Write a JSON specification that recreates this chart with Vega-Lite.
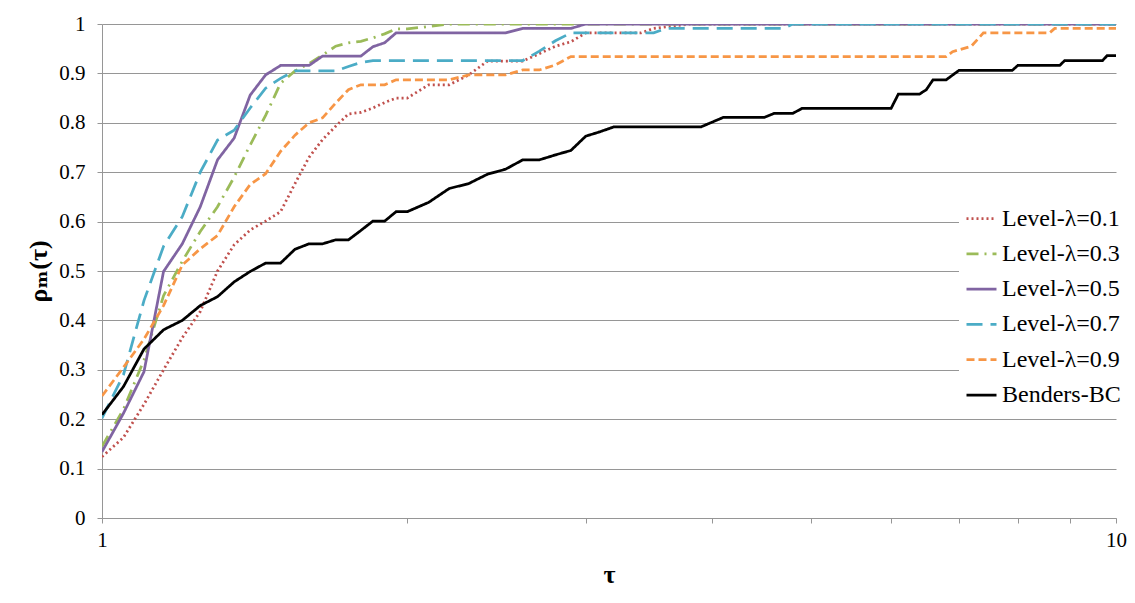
{
  "$schema": "https://vega.github.io/schema/vega-lite/v6.json",
  "width": 1014,
  "height": 494,
  "autosize": {"type": "none"},
  "padding": {"left": 102, "top": 24, "right": 19, "bottom": 85},
  "background": "white",
  "config": {"view": {"stroke": null}, "font": "Times New Roman, Liberation Serif, DejaVu Serif, serif"},
  "datasets": {
    "raw": [
      {"s": "Level-λ=0.1", "t": 1, "v": 0.124}, {"s": "Level-λ=0.1", "t": 1.05, "v": 0.163}, {"s": "Level-λ=0.1", "t": 1.1, "v": 0.23}, {"s": "Level-λ=0.1", "t": 1.15, "v": 0.3}, {"s": "Level-λ=0.1", "t": 1.2, "v": 0.365}, {"s": "Level-λ=0.1", "t": 1.25, "v": 0.418}, {"s": "Level-λ=0.1", "t": 1.3, "v": 0.5}, {"s": "Level-λ=0.1", "t": 1.35, "v": 0.553}, {"s": "Level-λ=0.1", "t": 1.4, "v": 0.583}, {"s": "Level-λ=0.1", "t": 1.45, "v": 0.601}, {"s": "Level-λ=0.1", "t": 1.5, "v": 0.62}, {"s": "Level-λ=0.1", "t": 1.55, "v": 0.677}, {"s": "Level-λ=0.1", "t": 1.6, "v": 0.73}, {"s": "Level-λ=0.1", "t": 1.65, "v": 0.766}, {"s": "Level-λ=0.1", "t": 1.7, "v": 0.793}, {"s": "Level-λ=0.1", "t": 1.75, "v": 0.818}, {"s": "Level-λ=0.1", "t": 1.8, "v": 0.821}, {"s": "Level-λ=0.1", "t": 1.85, "v": 0.83}, {"s": "Level-λ=0.1", "t": 1.9, "v": 0.841}, {"s": "Level-λ=0.1", "t": 1.95, "v": 0.85}, {"s": "Level-λ=0.1", "t": 2.0, "v": 0.85}, {"s": "Level-λ=0.1", "t": 2.1, "v": 0.877}, {"s": "Level-λ=0.1", "t": 2.2, "v": 0.877}, {"s": "Level-λ=0.1", "t": 2.3, "v": 0.897}, {"s": "Level-λ=0.1", "t": 2.4, "v": 0.925}, {"s": "Level-λ=0.1", "t": 2.6, "v": 0.925}, {"s": "Level-λ=0.1", "t": 2.7, "v": 0.94}, {"s": "Level-λ=0.1", "t": 2.8, "v": 0.955}, {"s": "Level-λ=0.1", "t": 2.9, "v": 0.964}, {"s": "Level-λ=0.1", "t": 3.0, "v": 0.982}, {"s": "Level-λ=0.1", "t": 3.4, "v": 0.982}, {"s": "Level-λ=0.1", "t": 3.5, "v": 0.991}, {"s": "Level-λ=0.1", "t": 3.8, "v": 1.0}, {"s": "Level-λ=0.1", "t": 10, "v": 1.0},
      {"s": "Level-λ=0.3", "t": 1, "v": 0.145}, {"s": "Level-λ=0.3", "t": 1.05, "v": 0.22}, {"s": "Level-λ=0.3", "t": 1.1, "v": 0.32}, {"s": "Level-λ=0.3", "t": 1.15, "v": 0.45}, {"s": "Level-λ=0.3", "t": 1.2, "v": 0.52}, {"s": "Level-λ=0.3", "t": 1.25, "v": 0.58}, {"s": "Level-λ=0.3", "t": 1.3, "v": 0.63}, {"s": "Level-λ=0.3", "t": 1.35, "v": 0.69}, {"s": "Level-λ=0.3", "t": 1.4, "v": 0.755}, {"s": "Level-λ=0.3", "t": 1.45, "v": 0.815}, {"s": "Level-λ=0.3", "t": 1.5, "v": 0.88}, {"s": "Level-λ=0.3", "t": 1.55, "v": 0.905}, {"s": "Level-λ=0.3", "t": 1.6, "v": 0.92}, {"s": "Level-λ=0.3", "t": 1.65, "v": 0.937}, {"s": "Level-λ=0.3", "t": 1.7, "v": 0.955}, {"s": "Level-λ=0.3", "t": 1.75, "v": 0.962}, {"s": "Level-λ=0.3", "t": 1.8, "v": 0.965}, {"s": "Level-λ=0.3", "t": 1.85, "v": 0.972}, {"s": "Level-λ=0.3", "t": 1.9, "v": 0.98}, {"s": "Level-λ=0.3", "t": 1.95, "v": 0.99}, {"s": "Level-λ=0.3", "t": 2.0, "v": 0.99}, {"s": "Level-λ=0.3", "t": 2.1, "v": 0.995}, {"s": "Level-λ=0.3", "t": 2.2, "v": 1.0}, {"s": "Level-λ=0.3", "t": 10, "v": 1.0},
      {"s": "Level-λ=0.5", "t": 1, "v": 0.134}, {"s": "Level-λ=0.5", "t": 1.05, "v": 0.212}, {"s": "Level-λ=0.5", "t": 1.1, "v": 0.296}, {"s": "Level-λ=0.5", "t": 1.15, "v": 0.499}, {"s": "Level-λ=0.5", "t": 1.2, "v": 0.555}, {"s": "Level-λ=0.5", "t": 1.25, "v": 0.63}, {"s": "Level-λ=0.5", "t": 1.3, "v": 0.725}, {"s": "Level-λ=0.5", "t": 1.35, "v": 0.769}, {"s": "Level-λ=0.5", "t": 1.4, "v": 0.856}, {"s": "Level-λ=0.5", "t": 1.45, "v": 0.897}, {"s": "Level-λ=0.5", "t": 1.5, "v": 0.916}, {"s": "Level-λ=0.5", "t": 1.6, "v": 0.916}, {"s": "Level-λ=0.5", "t": 1.65, "v": 0.935}, {"s": "Level-λ=0.5", "t": 1.8, "v": 0.935}, {"s": "Level-λ=0.5", "t": 1.85, "v": 0.954}, {"s": "Level-λ=0.5", "t": 1.9, "v": 0.962}, {"s": "Level-λ=0.5", "t": 1.95, "v": 0.982}, {"s": "Level-λ=0.5", "t": 2.5, "v": 0.982}, {"s": "Level-λ=0.5", "t": 2.6, "v": 0.991}, {"s": "Level-λ=0.5", "t": 2.9, "v": 0.991}, {"s": "Level-λ=0.5", "t": 3.0, "v": 1.0}, {"s": "Level-λ=0.5", "t": 10, "v": 1.0},
      {"s": "Level-λ=0.7", "t": 1, "v": 0.202}, {"s": "Level-λ=0.7", "t": 1.05, "v": 0.29}, {"s": "Level-λ=0.7", "t": 1.1, "v": 0.44}, {"s": "Level-λ=0.7", "t": 1.15, "v": 0.55}, {"s": "Level-λ=0.7", "t": 1.2, "v": 0.61}, {"s": "Level-λ=0.7", "t": 1.25, "v": 0.7}, {"s": "Level-λ=0.7", "t": 1.3, "v": 0.765}, {"s": "Level-λ=0.7", "t": 1.35, "v": 0.785}, {"s": "Level-λ=0.7", "t": 1.4, "v": 0.83}, {"s": "Level-λ=0.7", "t": 1.45, "v": 0.87}, {"s": "Level-λ=0.7", "t": 1.5, "v": 0.89}, {"s": "Level-λ=0.7", "t": 1.55, "v": 0.905}, {"s": "Level-λ=0.7", "t": 1.7, "v": 0.905}, {"s": "Level-λ=0.7", "t": 1.75, "v": 0.914}, {"s": "Level-λ=0.7", "t": 1.8, "v": 0.922}, {"s": "Level-λ=0.7", "t": 1.85, "v": 0.926}, {"s": "Level-λ=0.7", "t": 2.6, "v": 0.926}, {"s": "Level-λ=0.7", "t": 2.7, "v": 0.945}, {"s": "Level-λ=0.7", "t": 2.8, "v": 0.966}, {"s": "Level-λ=0.7", "t": 2.9, "v": 0.982}, {"s": "Level-λ=0.7", "t": 3.5, "v": 0.982}, {"s": "Level-λ=0.7", "t": 3.6, "v": 0.991}, {"s": "Level-λ=0.7", "t": 4.7, "v": 0.991}, {"s": "Level-λ=0.7", "t": 4.8, "v": 1.0}, {"s": "Level-λ=0.7", "t": 10, "v": 1.0},
      {"s": "Level-λ=0.9", "t": 1, "v": 0.247}, {"s": "Level-λ=0.9", "t": 1.05, "v": 0.305}, {"s": "Level-λ=0.9", "t": 1.1, "v": 0.362}, {"s": "Level-λ=0.9", "t": 1.15, "v": 0.43}, {"s": "Level-λ=0.9", "t": 1.2, "v": 0.512}, {"s": "Level-λ=0.9", "t": 1.25, "v": 0.545}, {"s": "Level-λ=0.9", "t": 1.3, "v": 0.572}, {"s": "Level-λ=0.9", "t": 1.35, "v": 0.63}, {"s": "Level-λ=0.9", "t": 1.4, "v": 0.675}, {"s": "Level-λ=0.9", "t": 1.45, "v": 0.697}, {"s": "Level-λ=0.9", "t": 1.5, "v": 0.742}, {"s": "Level-λ=0.9", "t": 1.55, "v": 0.775}, {"s": "Level-λ=0.9", "t": 1.6, "v": 0.8}, {"s": "Level-λ=0.9", "t": 1.65, "v": 0.81}, {"s": "Level-λ=0.9", "t": 1.7, "v": 0.84}, {"s": "Level-λ=0.9", "t": 1.75, "v": 0.867}, {"s": "Level-λ=0.9", "t": 1.8, "v": 0.877}, {"s": "Level-λ=0.9", "t": 1.9, "v": 0.877}, {"s": "Level-λ=0.9", "t": 1.95, "v": 0.887}, {"s": "Level-λ=0.9", "t": 2.2, "v": 0.887}, {"s": "Level-λ=0.9", "t": 2.3, "v": 0.897}, {"s": "Level-λ=0.9", "t": 2.5, "v": 0.897}, {"s": "Level-λ=0.9", "t": 2.6, "v": 0.907}, {"s": "Level-λ=0.9", "t": 2.7, "v": 0.907}, {"s": "Level-λ=0.9", "t": 2.8, "v": 0.917}, {"s": "Level-λ=0.9", "t": 2.9, "v": 0.934}, {"s": "Level-λ=0.9", "t": 6.8, "v": 0.934}, {"s": "Level-λ=0.9", "t": 6.9, "v": 0.944}, {"s": "Level-λ=0.9", "t": 7.2, "v": 0.955}, {"s": "Level-λ=0.9", "t": 7.4, "v": 0.982}, {"s": "Level-λ=0.9", "t": 8.6, "v": 0.982}, {"s": "Level-λ=0.9", "t": 8.7, "v": 0.991}, {"s": "Level-λ=0.9", "t": 10, "v": 0.991},
      {"s": "Benders-BC", "t": 1, "v": 0.209}, {"s": "Benders-BC", "t": 1.05, "v": 0.266}, {"s": "Benders-BC", "t": 1.1, "v": 0.342}, {"s": "Benders-BC", "t": 1.15, "v": 0.381}, {"s": "Benders-BC", "t": 1.2, "v": 0.4}, {"s": "Benders-BC", "t": 1.25, "v": 0.43}, {"s": "Benders-BC", "t": 1.3, "v": 0.448}, {"s": "Benders-BC", "t": 1.35, "v": 0.478}, {"s": "Benders-BC", "t": 1.4, "v": 0.499}, {"s": "Benders-BC", "t": 1.45, "v": 0.516}, {"s": "Benders-BC", "t": 1.5, "v": 0.516}, {"s": "Benders-BC", "t": 1.55, "v": 0.544}, {"s": "Benders-BC", "t": 1.6, "v": 0.555}, {"s": "Benders-BC", "t": 1.65, "v": 0.555}, {"s": "Benders-BC", "t": 1.7, "v": 0.563}, {"s": "Benders-BC", "t": 1.75, "v": 0.563}, {"s": "Benders-BC", "t": 1.8, "v": 0.582}, {"s": "Benders-BC", "t": 1.85, "v": 0.601}, {"s": "Benders-BC", "t": 1.9, "v": 0.601}, {"s": "Benders-BC", "t": 1.95, "v": 0.62}, {"s": "Benders-BC", "t": 2.0, "v": 0.62}, {"s": "Benders-BC", "t": 2.1, "v": 0.639}, {"s": "Benders-BC", "t": 2.2, "v": 0.667}, {"s": "Benders-BC", "t": 2.3, "v": 0.677}, {"s": "Benders-BC", "t": 2.4, "v": 0.696}, {"s": "Benders-BC", "t": 2.5, "v": 0.706}, {"s": "Benders-BC", "t": 2.6, "v": 0.725}, {"s": "Benders-BC", "t": 2.7, "v": 0.725}, {"s": "Benders-BC", "t": 2.8, "v": 0.735}, {"s": "Benders-BC", "t": 2.9, "v": 0.744}, {"s": "Benders-BC", "t": 3.0, "v": 0.773}, {"s": "Benders-BC", "t": 3.1, "v": 0.782}, {"s": "Benders-BC", "t": 3.2, "v": 0.792}, {"s": "Benders-BC", "t": 3.9, "v": 0.792}, {"s": "Benders-BC", "t": 4.1, "v": 0.811}, {"s": "Benders-BC", "t": 4.5, "v": 0.811}, {"s": "Benders-BC", "t": 4.6, "v": 0.819}, {"s": "Benders-BC", "t": 4.8, "v": 0.819}, {"s": "Benders-BC", "t": 4.9, "v": 0.829}, {"s": "Benders-BC", "t": 6.0, "v": 0.829}, {"s": "Benders-BC", "t": 6.1, "v": 0.858}, {"s": "Benders-BC", "t": 6.4, "v": 0.858}, {"s": "Benders-BC", "t": 6.5, "v": 0.867}, {"s": "Benders-BC", "t": 6.6, "v": 0.887}, {"s": "Benders-BC", "t": 6.8, "v": 0.887}, {"s": "Benders-BC", "t": 7.0, "v": 0.906}, {"s": "Benders-BC", "t": 7.9, "v": 0.906}, {"s": "Benders-BC", "t": 8.0, "v": 0.916}, {"s": "Benders-BC", "t": 8.8, "v": 0.916}, {"s": "Benders-BC", "t": 8.9, "v": 0.926}, {"s": "Benders-BC", "t": 9.7, "v": 0.926}, {"s": "Benders-BC", "t": 9.8, "v": 0.936}, {"s": "Benders-BC", "t": 10, "v": 0.936}
    ]
  },
  "data": {"name": "raw"},
  "mark": {"type": "line", "strokeWidth": 2.75, "clip": true},
  "encoding": {
    "x": {
      "field": "t", "type": "quantitative",
      "scale": {"type": "log", "domain": [1, 10]},
      "axis": {
        "values": [1, 2, 3, 4, 5, 6, 7, 8, 9, 10],
        "labelExpr": "datum.value == 1 || datum.value == 10 ? datum.label : ''",
        "grid": false,
        "domainColor": "#969696", "domainWidth": 1,
        "tickColor": "#969696", "tickSize": 5,
        "encode": {
          "ticks": {
            "update": {
              "y": {"signal": "datum.value == 10 ? -5 : 0"},
              "y2": {"signal": "datum.value == 1 || datum.value == 10 ? 5 : -5"}
            }
          }
        },
        "labelFontSize": 21, "labelColor": "black",
        "labelPadding": 6, "labelFlush": false, "labelOverlap": false,
        "title": "τ", "titleFontSize": 26, "titleFontWeight": "bold", "titleColor": "black",
        "titleY": 64, "titleBaseline": "alphabetic"
      }
    },
    "y": {
      "field": "v", "type": "quantitative",
      "scale": {"domain": [0, 1], "nice": false},
      "axis": {
        "values": [0, 0.1, 0.2, 0.3, 0.4, 0.5, 0.6, 0.7, 0.8, 0.9, 1],
        "format": "~g",
        "grid": true, "gridColor": "#969696", "gridWidth": 1,
        "domainColor": "#969696", "tickColor": "#969696", "tickSize": 5,
        "labelFontSize": 21, "labelColor": "black", "labelPadding": 12,
        "title": "ρₘ(τ)", "titleFontSize": 26, "titleFontWeight": "bold", "titleColor": "black",
        "titleAngle": -90, "titleX": -64, "titleY": 247, "titleAlign": "center", "titleBaseline": "middle"
      }
    },
    "color": {
      "field": "s", "type": "nominal",
      "scale": {
        "domain": ["Level-λ=0.1", "Level-λ=0.3", "Level-λ=0.5", "Level-λ=0.7", "Level-λ=0.9", "Benders-BC"],
        "range": ["#C0504D", "#9BBB59", "#8064A2", "#4BACC6", "#F79646", "#000000"]
      },
      "legend": {
        "orient": "none", "legendX": 857, "legendY": 172, "title": null,
        "symbolType": "stroke", "symbolSize": 900, "symbolStrokeWidth": 2.75,
        "labelFontSize": 24, "labelColor": "black", "labelLimit": 300, "labelOffset": 4,
        "rowPadding": 6.3, "padding": 6, "fillColor": "white"
      }
    },
    "strokeDash": {
      "field": "s", "type": "nominal",
      "scale": {
        "domain": ["Level-λ=0.1", "Level-λ=0.3", "Level-λ=0.5", "Level-λ=0.7", "Level-λ=0.9", "Benders-BC"],
        "range": [[2, 3], [12, 6, 2, 6], [1, 0], [16, 8], [8, 4], [1, 0]]
      }
    }
  }
}
